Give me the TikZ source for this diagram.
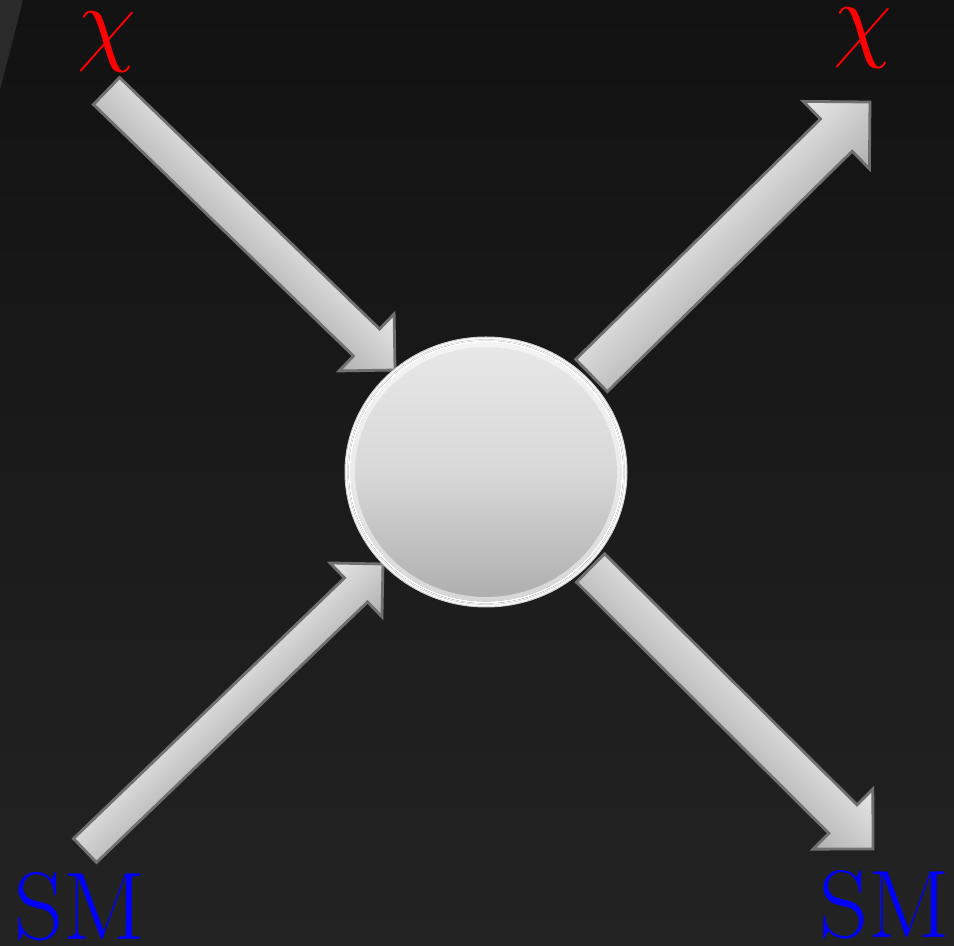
\RequirePackage{fix-cm}
\documentclass[tikz,border=0pt]{standalone}
\usetikzlibrary{calc,shapes.geometric}

\definecolor{bgtop}{HTML}{121212}
\definecolor{bgbot}{HTML}{232323}
\definecolor{wedge}{HTML}{2A2A2A}
\definecolor{arrlight}{HTML}{E8E8E8}
\definecolor{arrdark}{HTML}{B0B0B0}
\definecolor{arredge}{HTML}{707070}
\definecolor{balltop}{HTML}{E8E8E8}
\definecolor{ballmid}{HTML}{D8D8D8}
\definecolor{ballbot}{HTML}{ADADAD}

% fat arrow: tail, tip, half shaft width, half head width (pt)
\newcommand{\fatarrow}[4]{%
  \path let \p1=($(#2)-(#1)$) in \pgfextra{%
    \pgfmathsetmacro\arrang{atan2(\y1,\x1)}\global\let\arrang\arrang
    \pgfmathsetmacro\arrlen{veclen(\x1,\y1)}\global\let\arrlen\arrlen};
  \begin{scope}[transform canvas={shift={(#1)}, rotate=\arrang}]
    \draw[fat] (0pt,#3pt) -- ({\arrlen pt-#4pt},#3pt) -- ({\arrlen pt-#4pt},#4pt)
      -- (\arrlen pt,0pt) -- ({\arrlen pt-#4pt},-#4pt) -- ({\arrlen pt-#4pt},-#3pt)
      -- (0pt,-#3pt) -- cycle;
  \end{scope}}

\begin{document}
\begin{tikzpicture}[
    x=0.5pt, y=-0.5pt,
    label/.style={inner sep=0pt, font=\fontsize{48}{48}\selectfont},
    chi/.style={label, text=red},
    sm/.style={label, text=blue},
    fat/.style={draw=arredge, line width=1.4pt, line join=miter, top color=arrlight, bottom color=arrdark},
    ball/.style={ellipse, inner sep=0pt, minimum width=141pt, minimum height=135pt, fill=white, draw=gray!40, line width=0.5pt}
]
% background
\useasboundingbox (0,0) rectangle (954,946);
\fill[top color=bgtop, bottom color=bgbot] (0,0) rectangle (954,946);
\fill[wedge] (0,0) -- (23,0) -- (0,90) -- cycle;

% labels
\node[chi] (chiin) at (107,42) {$\chi$};
\node[chi] (chiout) at (863,38) {$\chi$};
\node[sm] (smin) at (80,907) {SM};
\node[sm] (smout) at (885,905) {SM};

% arrow ends
\coordinate (chiin-tail) at (106.5,91);
\coordinate (chiin-tip) at (395,370);
\coordinate (chiout-tail) at (591.5,375.5);
\coordinate (chiout-tip) at (870,102);
\coordinate (smin-tail) at (85,850.5);
\coordinate (smin-tip) at (383,564);
\coordinate (smout-tail) at (590.5,568);
\coordinate (smout-tip) at (873,849);

\fatarrow{chiin-tail}{chiin-tip}{9.4}{19.8}
\fatarrow{chiout-tail}{chiout-tip}{11.3}{23.6}
\fatarrow{smin-tail}{smin-tip}{8.3}{18.7}
\fatarrow{smout-tail}{smout-tip}{10.0}{21.2}

% blob
\node[ball] (blob) at (486,472) {};
\fill[top color=balltop, bottom color=ballbot, middle color=ballmid] (blob.center) ellipse [x radius=68.6pt, y radius=65.6pt];
\draw[white, opacity=0.5, line width=2.2pt] (blob.center) ellipse [x radius=66.6pt, y radius=63.6pt];
\draw[white, line width=0.8pt] (blob.center) ellipse [x radius=68.2pt, y radius=65.2pt];
\draw[gray!35, line width=0.3pt] (blob.center) ellipse [x radius=69.3pt, y radius=66.3pt];
\end{tikzpicture}
\end{document}
